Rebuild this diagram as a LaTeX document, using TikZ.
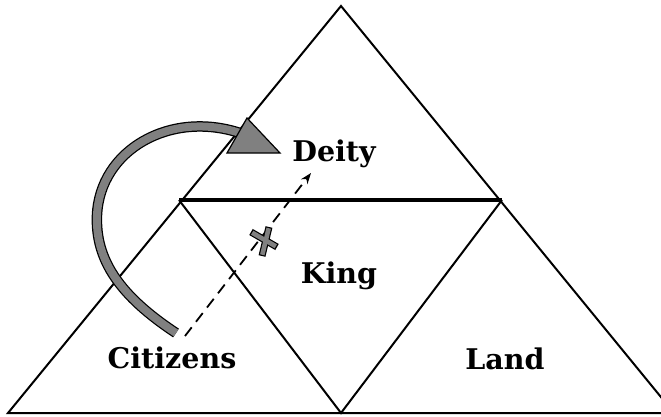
\documentclass[tikz,border=0pt]{standalone}
\usepackage{fontspec}
\newfontfamily\labelfamily{DejaVu Serif}
\newcommand{\labelfont}{\labelfamily\bfseries\fontsize{28.5}{32}\selectfont}
\definecolor{bandgray}{RGB}{128,128,128}
\usetikzlibrary{arrows.meta}

\begin{document}
\begin{tikzpicture}[
    x=1pt, y=-1pt,
    lbl/.style={font=\labelfont, anchor=base, inner sep=0pt},
    side/.style={line width=2pt, line join=miter},
    hint/.style={line width=1.8pt, dash pattern=on 11pt off 7pt, -{Stealth[length=11pt, width=8pt]}},
  ]
    \useasboundingbox (0,0) rectangle (661,416);
    \clip (0,0) rectangle (661,416);
    % outer and inner triangles
    \coordinate (apex) at (341,6);
    \coordinate (bl) at (8,413);
    \coordinate (br) at (674,413);
    \coordinate (ml) at (179,200);
    \coordinate (mr) at (502,200);
    \coordinate (mb) at (341,413);
    \draw[side] (apex) -- (bl) -- (br) -- cycle;
    \draw[side] (ml) -- (mb) -- (mr);
    \draw[line width=3.2pt] (ml) -- (mr);

    \node[lbl] (deity) at (334,161) {Deity};
    \node[lbl] (king) at (339,283) {King};
    \node[lbl] (citizens) at (172,368) {Citizens};
    \node[lbl] (land) at (505,369) {Land};

    % curved band from citizens up to deity
    \coordinate (bandstart) at (176,333);
    \coordinate (bandend) at (240,133);
    \draw[line width=10.5pt] (bandstart) .. controls (120,296) and (95,260) .. (97,215)
      .. controls (100,150) and (170,110) .. (bandend);
    \draw[line width=8pt, bandgray] (bandstart) .. controls (120,296) and (95,260) .. (97,215)
      .. controls (100,150) and (170,110) .. (bandend);
    \draw[line width=1.2pt, fill=bandgray, line join=miter] (247,118) -- (280,153) -- (227,153) -- cycle;

    % dashed hint from citizens to deity, crossed out
    \coordinate (hintstart) at (185,336);
    \coordinate (hinttip) at (311,173);
    \draw[hint] (hintstart) -- (hinttip);
    \draw[line width=7pt] (251,232) -- (277,247);
    \draw[line width=7pt] (269,227) -- (262,256);
    \draw[line width=4.6pt, bandgray] (252.2,232.7) -- (275.8,246.3);
    \draw[line width=4.6pt, bandgray] (268.7,228.2) -- (262.3,254.8);
  \end{tikzpicture}
\end{document}
